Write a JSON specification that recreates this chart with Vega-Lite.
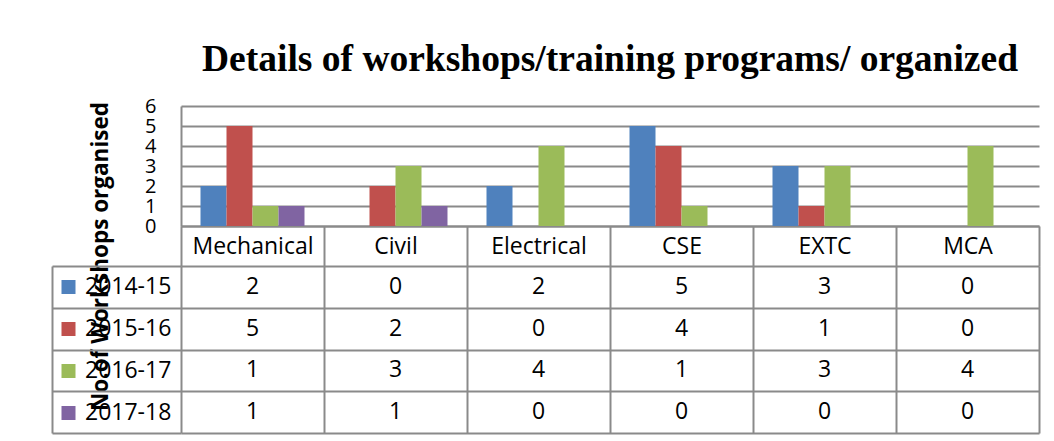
{
  "$schema": "https://vega.github.io/schema/vega-lite/v6.json",
  "background": "white",
  "padding": {"left": 51, "top": 40, "right": 14, "bottom": 8},
  "datasets": {
    "counts": [
      {"dept": "Mechanical", "year": "2014-15", "n": 2},
      {"dept": "Mechanical", "year": "2015-16", "n": 5},
      {"dept": "Mechanical", "year": "2016-17", "n": 1},
      {"dept": "Mechanical", "year": "2017-18", "n": 1},
      {"dept": "Civil", "year": "2014-15", "n": 0},
      {"dept": "Civil", "year": "2015-16", "n": 2},
      {"dept": "Civil", "year": "2016-17", "n": 3},
      {"dept": "Civil", "year": "2017-18", "n": 1},
      {"dept": "Electrical", "year": "2014-15", "n": 2},
      {"dept": "Electrical", "year": "2015-16", "n": 0},
      {"dept": "Electrical", "year": "2016-17", "n": 4},
      {"dept": "Electrical", "year": "2017-18", "n": 0},
      {"dept": "CSE", "year": "2014-15", "n": 5},
      {"dept": "CSE", "year": "2015-16", "n": 4},
      {"dept": "CSE", "year": "2016-17", "n": 1},
      {"dept": "CSE", "year": "2017-18", "n": 0},
      {"dept": "EXTC", "year": "2014-15", "n": 3},
      {"dept": "EXTC", "year": "2015-16", "n": 1},
      {"dept": "EXTC", "year": "2016-17", "n": 3},
      {"dept": "EXTC", "year": "2017-18", "n": 0},
      {"dept": "MCA", "year": "2014-15", "n": 0},
      {"dept": "MCA", "year": "2015-16", "n": 0},
      {"dept": "MCA", "year": "2016-17", "n": 4},
      {"dept": "MCA", "year": "2017-18", "n": 0}
    ]
  },
  "spacing": 40,
  "bounds": "flush",
  "resolve": {"scale": {"x": "independent", "y": "independent", "color": "shared"}, "legend": {"color": "independent"}},
  "vconcat": [
    {
      "width": 858,
      "height": 120,
      "data": {"name": "counts"},
      "title": {"text": "Details of workshops/training programs/ organized", "font": "Liberation Serif", "fontSize": 37.5, "fontWeight": "bold", "color": "black", "anchor": "middle", "frame": "group", "offset": 18},
      "mark": {"type": "bar"},
      "encoding": {
        "x": {"field": "dept", "type": "nominal", "sort": ["Mechanical", "Civil", "Electrical", "CSE", "EXTC", "MCA"],
          "scale": {"paddingInner": 0, "paddingOuter": 0},
          "axis": {"title": null, "labelAngle": 0, "labelFont": "Open Sans", "labelFontSize": 23, "labelColor": "black", "labelBaseline": "middle", "labelPadding": -20,
            "tickBand": "extent", "tickSize": 40, "tickWidth": 2, "tickColor": "#8a8a8a", "domainColor": "#8a8a8a", "domainWidth": 2, "grid": false}},
        "xOffset": {"field": "year", "type": "nominal", "scale": {"paddingInner": 0, "paddingOuter": 0.75}},
        "y": {"field": "n", "type": "quantitative", "scale": {"domain": [0, 6], "nice": false},
          "axis": {"values": [0, 1, 2, 3, 4, 5, 6], "title": "No.of Workshops organised", "titleFont": "Open Sans", "titleFontSize": 22.5, "titleFontWeight": "bold", "titleColor": "black",
            "titleX": -81, "titleY": 150, "titleBaseline": "middle", "titleAngle": -90, "titleAlign": "center",
            "labelFont": "Open Sans", "labelFontSize": 20, "labelColor": "black", "labelPadding": 25, "labelOverlap": false, "labelBound": false, "labelFlush": false, "ticks": false,
            "grid": true, "gridColor": "#8a8a8a", "gridWidth": 2, "domainColor": "#8a8a8a", "domainWidth": 2}},
        "color": {"field": "year", "type": "nominal", "scale": {"range": ["#4F81BD", "#C0504D", "#9BBB59", "#8064A2"]}, "legend": null}
      }
    },
    {
      "width": 858,
      "height": 167,
      "data": {"name": "counts"},
      "layer": [
        {
          "mark": {"type": "text", "font": "Open Sans", "fontSize": 23, "color": "black"},
          "encoding": {
            "x": {"field": "dept", "type": "nominal", "sort": ["Mechanical", "Civil", "Electrical", "CSE", "EXTC", "MCA"],
              "scale": {"paddingInner": 0, "paddingOuter": 0},
              "axis": {"orient": "top", "title": null, "labels": false, "ticks": false, "domain": false, "grid": true, "tickBand": "extent", "gridColor": "#8a8a8a", "gridWidth": 2}},
            "y": {"field": "year", "type": "nominal", "scale": {"paddingInner": 0, "paddingOuter": 0},
              "axis": {"title": null, "labels": false, "grid": true, "tickBand": "extent", "gridColor": "#8a8a8a", "gridWidth": 2,
                "ticks": true, "tickSize": -129, "tickColor": "#8a8a8a", "tickWidth": 2, "offset": 129, "domain": true, "domainColor": "#8a8a8a", "domainWidth": 2}},
            "text": {"field": "n", "type": "quantitative"}
          }
        },
        {
          "mark": {"type": "square", "opacity": 0},
          "encoding": {
            "x": {"field": "dept", "type": "nominal", "sort": ["Mechanical", "Civil", "Electrical", "CSE", "EXTC", "MCA"]},
            "y": {"field": "year", "type": "nominal"},
            "color": {"field": "year", "type": "nominal",
              "legend": {"orient": "none", "legendX": -124, "legendY": 0, "title": null, "symbolType": "square", "symbolSize": 196, "symbolOpacity": 1, "symbolStrokeWidth": 0,
                "labelFont": "Open Sans", "labelFontSize": 23, "labelColor": "black", "labelOffset": 5, "clipHeight": 41.75, "rowPadding": 0, "padding": 0}}
          }
        }
      ]
    }
  ],
  "config": {"view": {"stroke": null}}
}
